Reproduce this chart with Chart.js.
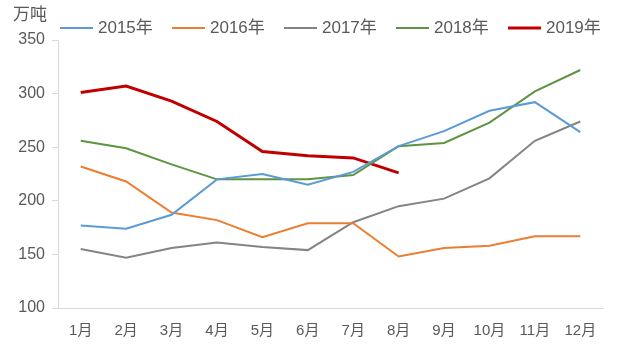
<!DOCTYPE html>
<html lang="zh">
<head>
    <meta charset="UTF-8">
    <title>月度数据</title>
    <script src="https://cdn.jsdelivr.net/npm/chart.js"></script>
    <style>
        body {
            margin: 0;
            background-color: white;
        }
        .chart-container {
            width: 617px;
            height: 350px;
        }
    </style>
</head>
<body>
    <div class="chart-container">
        <canvas id="lineaChart"></canvas>
    </div>

    <script>
        const meses = ['1月', '2月', '3月', '4月', '5月', '6月', '7月', '8月', '9月', '10月', '11月', '12月'];
        const datos2015 = [177, 174, 187, 220, 225, 215, 227, 251, 265, 284, 292, 264];
        const datos2016 = [232, 218, 189, 182, 166, 179, 179, 148, 156, 158, 167, 167];
        const datos2017 = [155, 147, 156, 161, 157, 154, 180, 195, 202, 221, 256, 274];
        const datos2018 = [256, 249, 234, 220, 220, 220, 224, 251, 254, 273, 302, 322];
        const datos2019 = [301, 307, 293, 274, 246, 242, 240, 226];
        const unidad = '万吨';

        const fuente = '"Liberation Sans", "Noto Sans CJK SC", sans-serif';
        const colorTexto = '#595959';
        const colorEje = '#d9d9d9';

        // leyenda y unidad dibujadas a mano para fijar su posición
        const leyendaPlugin = {
            id: 'leyendaManual',
            afterDraw(chart) {
                const ctx = chart.ctx;
                ctx.save();
                ctx.font = '17px ' + fuente;
                ctx.fillStyle = colorTexto;
                ctx.textBaseline = 'middle';
                ctx.textAlign = 'left';
                ctx.fillText(unidad, 13, 15);

                chart.data.datasets.forEach((ds, i) => {
                    const x0 = 60 + i * 112;
                    ctx.strokeStyle = ds.borderColor;
                    ctx.lineWidth = ds.borderWidth;
                    ctx.beginPath();
                    ctx.moveTo(x0, 28);
                    ctx.lineTo(x0 + 33, 28);
                    ctx.stroke();
                    ctx.fillStyle = colorTexto;
                    ctx.fillText(ds.label, x0 + 38, 28);
                });
                ctx.restore();
            }
        };

        function serie(label, data, color, ancho) {
            return {
                label: label,
                data: data,
                borderColor: color,
                backgroundColor: color,
                borderWidth: ancho,
                pointRadius: 0,
                pointHoverRadius: 0,
                tension: 0,
                fill: false
            };
        }

        const ctx = document.getElementById('lineaChart').getContext('2d');
        const lineaChart = new Chart(ctx, {
            type: 'line',
            data: {
                labels: meses,
                datasets: [
                    serie('2015年', datos2015, '#5b9bd5', 2),
                    serie('2016年', datos2016, '#ed7d31', 2),
                    serie('2017年', datos2017, '#848484', 2),
                    serie('2018年', datos2018, '#5e9340', 2),
                    serie('2019年', datos2019, '#c00000', 3)
                ]
            },
            options: {
                responsive: true,
                maintainAspectRatio: false,
                animation: false,
                layout: {
                    padding: { top: 40, left: 0, right: 14, bottom: -4 }
                },
                plugins: {
                    legend: { display: false },
                    tooltip: { enabled: false }
                },
                scales: {
                    x: {
                        offset: true,
                        grid: {
                            display: true,
                            drawOnChartArea: false,
                            drawTicks: false
                        },
                        border: { display: true, color: colorEje, width: 1 },
                        ticks: {
                            color: colorTexto,
                            padding: 14,
                            maxRotation: 0,
                            autoSkip: false,
                            font: { size: 15, family: fuente }
                        }
                    },
                    y: {
                        min: 100,
                        max: 350,
                        afterFit(scale) {
                            scale.width = 58;
                        },
                        grid: {
                            display: true,
                            drawOnChartArea: false,
                            drawTicks: true,
                            tickLength: 6,
                            color: colorEje
                        },
                        border: { display: true, color: colorEje, width: 1 },
                        ticks: {
                            stepSize: 50,
                            color: colorTexto,
                            padding: 7,
                            font: { size: 16, family: fuente }
                        }
                    }
                }
            },
            plugins: [leyendaPlugin]
        });
    </script>
</body>
</html>
